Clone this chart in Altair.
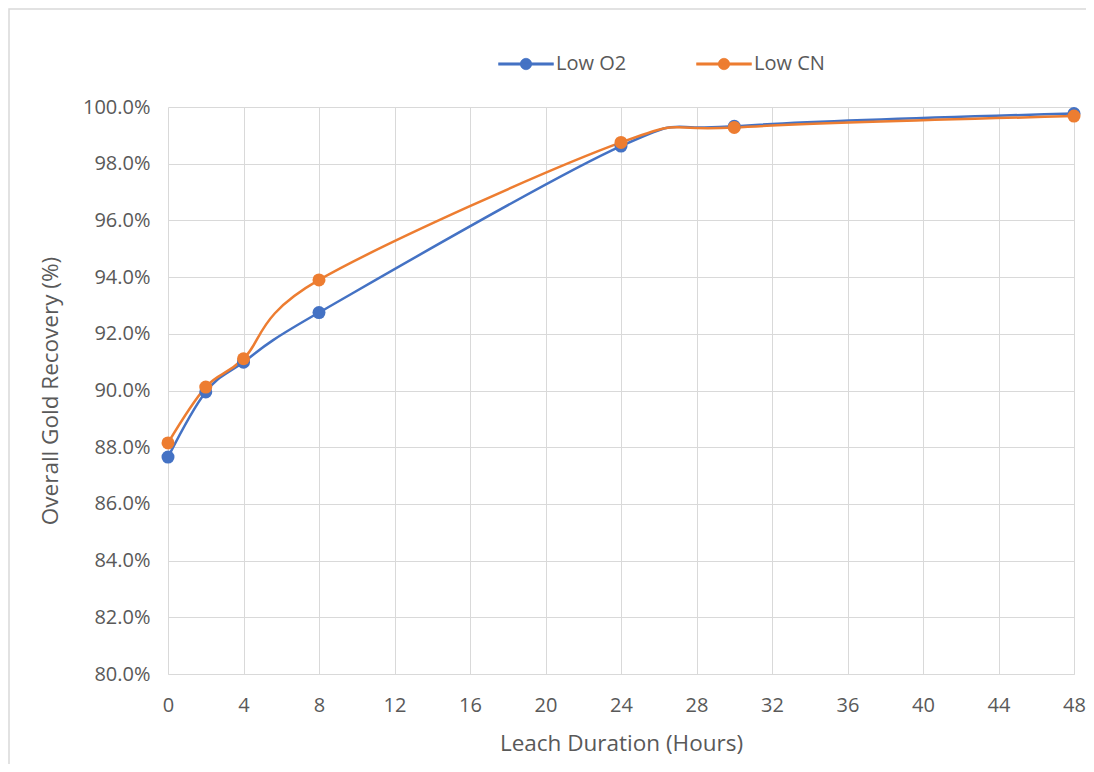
import altair as alt
import pandas as pd

hours = [0, 2, 4, 8, 24, 30, 48]
low_o2 = [87.65, 89.95, 91.0, 92.75, 98.62, 99.32, 99.77]
low_cn = [88.15, 90.12, 91.12, 93.9, 98.75, 99.28, 99.68]
series_names = ["Low O2", "Low CN"]
colors = ["#4472C4", "#ED7D31"]
x_ticks = list(range(0, 49, 4))
y_ticks = [0.80 + 0.02 * i for i in range(11)]

rows = []
for name, vals in zip(series_names, [low_o2, low_cn]):
    for h, v in zip(hours, vals):
        rows.append({"hours": h, "recovery": v / 100.0, "series": name})
df = pd.DataFrame(rows)

FONT = "Open Sans"
GRAY = "#595959"
GRID = "#d9d9d9"

# legend glyph: thin bar with a dot in the middle (filled shape)
sym_path = ("M-1,-0.045H1V0.045H-1Z"
            "M-0.21,0A0.21,0.21 0 1,1 0.21,0A0.21,0.21 0 1,1 -0.21,0Z")

cscale = alt.Scale(domain=series_names, range=colors)
legend = alt.Legend(
    title=None, orient="none", legendX=330, legendY=-71,
    direction="horizontal", symbolType=sym_path, symbolSize=3025,
    symbolStrokeWidth=0.5, symbolOpacity=1,
    labelFontSize=20, labelColor=GRAY,
    labelFont=FONT, columnPadding=68, padding=0, labelOffset=2,
)

x = alt.X("hours:Q", title="Leach Duration (Hours)",
          scale=alt.Scale(domain=[0, 48], nice=False),
          axis=alt.Axis(values=x_ticks, format="d", grid=True, gridColor=GRID,
                        domainColor=GRID, ticks=False, labelPadding=21,
                        labelFlush=False, titlePadding=17))
y = alt.Y("recovery:Q", title="Overall Gold Recovery (%)",
          scale=alt.Scale(domain=[0.80, 1.00], nice=False, zero=False),
          axis=alt.Axis(values=y_ticks, format=".1%", grid=True, gridColor=GRID,
                        domain=False, ticks=False, labelPadding=18,
                        titlePadding=20))

base = alt.Chart(df)
lines = base.mark_line(interpolate="cardinal", strokeWidth=2.5).encode(
    x=x, y=y, color=alt.Color("series:N", scale=cscale, legend=legend),
    order="hours:Q")
points = base.mark_point(filled=True, size=169, opacity=1).encode(
    x=x, y=y, color=alt.Color("series:N", scale=cscale, legend=legend))

# light outer frame of the chart area (only top/left edges fall inside the page)
frame = alt.Chart(pd.DataFrame({"a": [0]})).mark_rect(
    fill=None, stroke=GRID, strokeWidth=1.5, clip=False).encode(
    x=alt.value(-159), x2=alt.value(1200),
    y=alt.value(-98), y2=alt.value(900))

chart = alt.layer(frame, lines, points).properties(
    width=906, height=567,
    autosize=alt.AutoSizeParams(type="none"),
    padding={"left": 160, "top": 99, "right": 12, "bottom": 90},
    background="white",
).configure_view(stroke=None).configure_axis(
    labelFont=FONT, titleFont=FONT, labelFontSize=20, titleFontSize=22.5,
    labelColor=GRAY, titleColor=GRAY, titleFontWeight="normal",
)

chart.save("out.html", embed_options={"renderer": "svg", "actions": False})
